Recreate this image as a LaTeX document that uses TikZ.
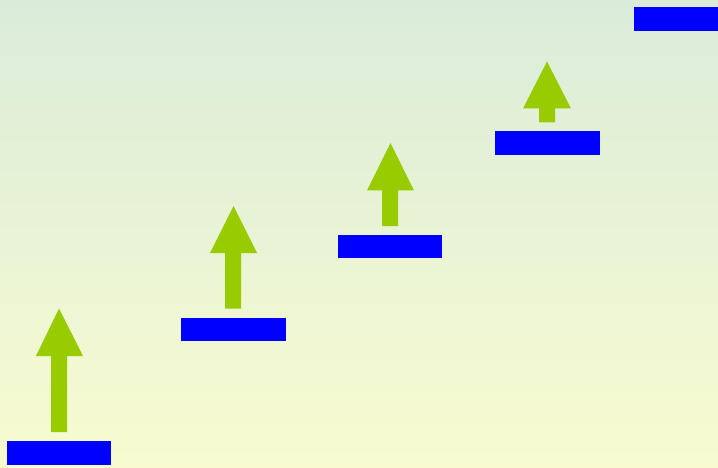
\documentclass[tikz,border=0pt]{standalone}
\definecolor{bgtop}{RGB}{218,236,217}
\definecolor{bgbottom}{RGB}{248,251,208}
\definecolor{stepblue}{RGB}{0,0,255}
\definecolor{upgreen}{RGB}{153,204,0}

\begin{document}
\begin{tikzpicture}[x=1pt,y=-1pt]
\path[use as bounding box] (0,0) rectangle (718,468);
\shade[top color=bgtop,bottom color=bgbottom] (0,0) rectangle (718,468);
\fill[stepblue] (7,441) rectangle (111,464.5);
\fill[stepblue] (181,317.5) rectangle (286,341);
\fill[stepblue] (338,235) rectangle (442,258);
\fill[stepblue] (495,131.5) rectangle (599.5,155.5);
\fill[stepblue] (634,7.5) rectangle (718,31.5);
\fill[upgreen] (51,432) -- (51,356) -- (36,356) -- (59,308.5) -- (83,356) -- (67,356) -- (67,432) -- cycle;
\fill[upgreen] (225,308.5) -- (225,253) -- (210,253) -- (233.5,206) -- (257,253) -- (241,253) -- (241,308.5) -- cycle;
\fill[upgreen] (382,226) -- (382,190.5) -- (367,190.5) -- (390.5,143) -- (414,190.5) -- (398,190.5) -- (398,226) -- cycle;
\fill[upgreen] (539,122.5) -- (539,108.5) -- (523,108.5) -- (547,61.5) -- (571,108.5) -- (555,108.5) -- (555,122.5) -- cycle;
\end{tikzpicture}
\end{document}
